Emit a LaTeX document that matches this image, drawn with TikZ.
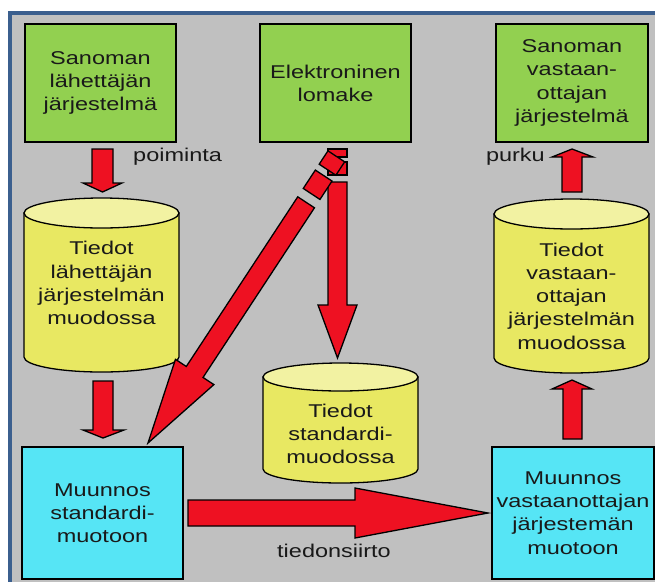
\documentclass[tikz,border=0pt]{standalone}
\usepackage{fontspec}
\setmainfont{Liberation Sans}[FakeStretch=1.27]
\definecolor{bgray}{HTML}{C0C0C0}
\definecolor{bblue}{HTML}{3B5F8E}
\definecolor{bgreen}{HTML}{92D050}
\definecolor{bcyan}{HTML}{56E5F5}
\definecolor{byellow}{HTML}{E8E862}
\definecolor{btop}{HTML}{F2F2A2}
\definecolor{bred}{HTML}{EE1122}
\tikzset{
  txt/.style={font=\fontsize{18.5}{23.2}\selectfont, align=center, text=black!90, inner sep=0pt},
  greenbox/.style={txt, draw=black, line width=1.4pt, fill=bgreen},
  cyanbox/.style={txt, draw=black, line width=1.4pt, fill=bcyan},
  blockarrow/.style={fill=bred, draw=black, line width=1.3pt, line join=miter},
  cylbody/.style={fill=byellow, draw=black, line width=1.3pt},
  cyltop/.style={fill=btop, draw=black, line width=1.3pt},
  lbl/.style={font=\fontsize{18.5}{23}\selectfont, text=black!90, inner sep=0pt}
}
\begin{document}
\begin{tikzpicture}[x=1pt,y=-1pt]
\useasboundingbox (0,0) rectangle (655,582);
\fill[white] (0,0) rectangle (655,582);
\fill[bblue] (8,11) rectangle (655,582);
\fill[bgray] (12,14.5) rectangle (655,582);

% top boxes
\node[greenbox, minimum width=151pt, minimum height=118pt] (b1) at (100.5,83) {Sanoman\\lähettäjän\\järjestelmä};
\node[greenbox, minimum width=151pt, minimum height=118pt] (b2) at (335.5,83) {Elektroninen\\lomake};
\node[greenbox, minimum width=152pt, minimum height=118pt] (b3) at (572,83) {Sanoman\\vastaan-\\ottajan\\järjestelmä};

% bottom boxes
\node[cyanbox, minimum width=161pt, minimum height=132pt] (b4) at (102.5,513) {Muunnos\\standardi-\\muotoon};
\node[cyanbox, minimum width=162pt, minimum height=132pt] (b5) at (573,513) {Muunnos\\vastaanottajan\\järjestemän\\muotoon};

% cylinders
\path[cylbody] (24,213) -- (24,357) arc[start angle=180,end angle=360,x radius=77.5pt,y radius=15pt] -- (179,213) -- cycle;
\path[cyltop] (101.5,213) ellipse[x radius=77.5pt,y radius=15pt];
\node[txt] (c1) at (101.5,283) {Tiedot\\lähettäjän\\järjestelmän\\muodossa};

\path[cylbody] (494,214) -- (494,358) arc[start angle=180,end angle=360,x radius=77.5pt,y radius=15pt] -- (649,214) -- cycle;
\path[cyltop] (571.5,214) ellipse[x radius=77.5pt,y radius=15pt];
\node[txt] (c3) at (571.5,296) {Tiedot\\vastaan-\\ottajan\\järjestelmän\\muodossa};

\path[cylbody] (263,377) -- (263,469) arc[start angle=180,end angle=360,x radius=77.5pt,y radius=14pt] -- (418,377) -- cycle;
\path[cyltop] (340.5,377) ellipse[x radius=77.5pt,y radius=14pt];
\node[txt] (c2) at (340.5,434) {Tiedot\\standardi-\\muodossa};

% down arrows on the left
\path[blockarrow] (92,149) -- (92,183) -- (83,183) -- (102.5,192) -- (122,183) -- (113,183) -- (113,149) -- cycle;
\path[blockarrow] (93,381) -- (93,430) -- (83,430) -- (103,438) -- (124,430) -- (113,430) -- (113,381) -- cycle;

% up arrows on the right
\path[blockarrow] (562,192) -- (562,157) -- (552,157) -- (572,149) -- (593,157) -- (582,157) -- (582,192) -- cycle;
\path[blockarrow] (563,439) -- (563,389) -- (552,389) -- (572,380) -- (592,389) -- (582,389) -- (582,439) -- cycle;

% vertical arrow from the form
\path[blockarrow] (328,149) rectangle (347,157);
\path[blockarrow] (328,162) rectangle (347,175);
\path[blockarrow] (328,182) -- (328,305) -- (318,305) -- (337.5,358) -- (357,305) -- (347,305) -- (347,182) -- cycle;

% diagonal arrow from the form
\begin{scope}[shift={(148,443)}, rotate=56.7]
\path[blockarrow] (0,0) -- (85,23) -- (85,10) -- (288,10) -- (288,-10) -- (85,-10) -- (85,-23) -- cycle;
\path[blockarrow] (298,-10) rectangle (320,10);
\path[blockarrow] (327,-10) rectangle (343,10);
\end{scope}

% horizontal transfer arrow
\path[blockarrow] (188,500) -- (355,500) -- (355,488) -- (488,513) -- (355,538) -- (355,526) -- (188,526) -- cycle;

% labels
\node[lbl, anchor=base west] (l1) at (133,161) {poiminta};
\node[lbl, anchor=base east] (l2) at (545,161) {purku};
\node[lbl, anchor=base west] (l3) at (277,557) {tiedonsiirto};
\end{tikzpicture}
\end{document}
